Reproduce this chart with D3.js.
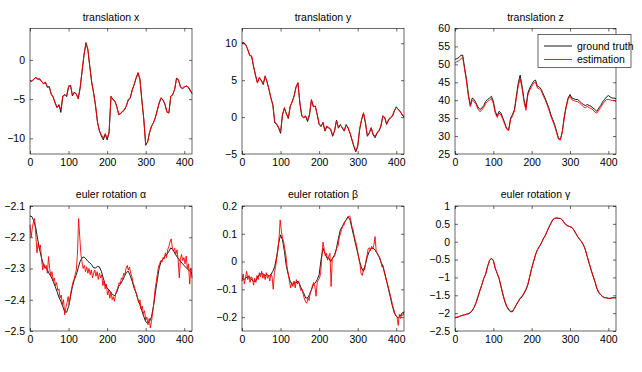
<!DOCTYPE html>
<html>
<head>
<meta charset="utf-8">
<script src="https://cdn.jsdelivr.net/npm/d3@7"></script>
<style>
  body { margin: 0; background: #fff; }
  svg { display: block; }
</style>
</head>
<body>
<div id="chart"></div>
<script>
// one sample every 5 frames, 0..420
const frames = d3.range(0, 421, 5);
// the noisy rotation estimates are read every 3 frames
const framesFine = d3.range(0, 421, 3);

const txTruth = [
  -2.6, -2.75, -2.5, -2.2, -2.5, -2.4, -2.75, -3.0, -2.9, -3.5,
  -3.4, -4.4, -4.7, -5.5, -6.1, -5.7, -6.7, -4.7, -4.4, -4.7,
  -3.5, -3.2, -4.6, -4.1, -4.4, -4.9, -3.6, -1.5, 0.6, 2.2,
  1.3, -0.8, -2.9, -4.2, -5.9, -8.0, -9.1, -9.7, -10.2, -9.5,
  -10.2, -9.3, -4.7, -5.0, -5.3, -5.9, -7.0, -6.8, -6.6, -6.4,
  -5.8, -5.1, -4.9, -3.8, -3.2, -2.3, -1.7, -2.5, -5.1, -7.6,
  -10.9, -10.4, -9.3, -8.5, -8.0, -7.4, -6.4, -5.5, -4.9, -5.1,
  -5.7, -6.6, -6.8, -4.7, -4.4, -3.8, -2.3, -2.6, -3.4, -3.7,
  -3.5, -3.3, -3.5, -3.9, -4.3
];
const txEstim = [
  -2.7, -2.7, -2.4, -2.3, -2.4, -2.5, -2.7, -3.1, -2.8, -3.4,
  -3.5, -4.3, -4.8, -5.4, -6.0, -5.9, -6.3, -4.6, -4.5, -4.6,
  -3.3, -3.3, -4.5, -4.2, -4.3, -5.0, -3.5, -1.4, 0.7, 2.1,
  1.4, -0.9, -2.8, -4.3, -5.8, -7.9, -9.0, -9.5, -10.0, -9.4,
  -10.0, -9.2, -4.6, -5.1, -5.2, -6.0, -6.9, -6.9, -6.5, -6.3,
  -5.9, -5.0, -4.8, -3.9, -3.1, -2.4, -1.6, -2.4, -5.2, -7.5,
  -10.8, -10.5, -9.2, -8.4, -8.1, -7.3, -6.5, -5.4, -4.8, -5.2,
  -5.6, -6.7, -6.7, -4.6, -4.5, -3.7, -2.4, -2.5, -3.5, -3.6,
  -3.4, -3.4, -3.4, -3.8, -4.3
];

const tyTruth = [
  10.0, 10.1, 9.8, 9.1, 8.4, 8.2, 6.8, 5.7, 4.7, 5.3,
  5.0, 4.4, 5.5, 4.8, 3.7, 2.6, 1.7, -0.8, -1.0, -1.5,
  -2.2, 0.3, 1.2, 0.5, -0.2, 1.4, 2.1, 2.8, 4.1, 4.6,
  1.9, 0.1, -0.1, 0.1, -0.6, 0.3, 2.3, 1.4, 1.5, 0.3,
  -1.0, -1.3, -0.7, -1.9, -1.3, -1.5, -1.7, -2.6, -1.9, -0.4,
  -1.5, -1.0, -1.5, -1.9, -1.0, -1.5, -2.2, -3.1, -4.0, -4.7,
  -4.0, -1.7, -0.4, 0.5, -0.8, -2.6, -2.2, -1.5, -2.4, -2.8,
  -2.2, -1.9, -1.3, 0.1, -0.1, -1.0, -0.4, -0.1, 0.1, 0.8,
  1.4, 1.0, 0.8, 0.3, 0.0
];
const tyEstim = [
  10.1, 10.0, 9.7, 9.2, 8.3, 8.3, 6.9, 5.6, 4.6, 5.4,
  4.9, 4.5, 5.6, 4.7, 3.8, 2.5, 1.6, -0.7, -0.9, -1.4,
  -2.0, 0.4, 1.3, 0.4, -0.1, 1.5, 2.0, 2.9, 4.0, 4.7,
  2.0, 0.2, 0.0, 0.2, -0.4, 0.4, 2.4, 1.5, 1.4, 0.4,
  -0.9, -1.2, -0.8, -1.8, -1.2, -1.4, -1.6, -2.5, -1.8, -0.5,
  -1.4, -1.1, -1.4, -1.8, -1.1, -1.4, -2.1, -3.0, -3.9, -4.5,
  -3.9, -1.6, -0.3, 0.6, -0.7, -2.5, -2.1, -1.4, -2.3, -2.6,
  -2.1, -1.8, -1.2, 0.2, 0.0, -0.9, -0.3, 0.0, 0.2, 0.9,
  1.3, 1.1, 0.7, 0.4, 0.0
];

const tzTruth = [
  51.4, 51.6, 51.9, 52.5, 52.6, 49.1, 45.8, 41.6, 38.6, 40.6,
  40.2, 39.2, 38.1, 37.4, 37.8, 38.5, 39.7, 40.2, 40.6, 41.1,
  39.7, 36.9, 35.6, 36.9, 36.4, 35.0, 33.6, 32.0, 31.8, 35.0,
  36.0, 37.4, 41.1, 44.8, 47.0, 43.9, 40.2, 38.0, 42.0, 43.4,
  44.4, 45.3, 45.6, 43.9, 43.7, 43.0, 41.8, 40.6, 39.2, 37.8,
  36.0, 34.6, 33.2, 31.3, 29.4, 29.1, 31.3, 35.5, 38.3, 40.6,
  41.6, 40.6, 40.4, 40.2, 40.2, 39.7, 39.2, 38.8, 38.5, 38.8,
  38.5, 38.3, 37.8, 37.4, 36.9, 37.8, 38.5, 39.5, 40.2, 40.9,
  41.3, 40.9, 40.6, 40.6, 40.4
];
const tzEstim = [
  50.3, 50.8, 51.0, 51.5, 52.0, 48.6, 45.2, 41.0, 38.2, 40.0,
  39.6, 38.8, 37.5, 36.8, 37.3, 38.0, 39.1, 39.7, 40.0, 40.5,
  39.1, 36.4, 35.2, 36.4, 35.9, 34.6, 33.2, 31.9, 31.5, 34.6,
  35.6, 37.0, 40.5, 44.0, 46.0, 43.2, 39.6, 37.2, 41.4, 42.8,
  43.8, 44.8, 45.0, 43.4, 43.2, 42.6, 41.3, 40.2, 38.8, 37.3,
  35.6, 34.1, 32.8, 30.9, 29.1, 28.9, 31.1, 35.0, 38.0, 40.2,
  41.2, 40.1, 39.9, 39.7, 39.6, 39.2, 38.7, 38.2, 37.9, 38.3,
  37.9, 37.7, 37.3, 36.7, 36.4, 37.2, 38.0, 38.9, 39.6, 40.2,
  40.2, 40.1, 39.9, 39.9, 39.7
];

const alphaTruth = [
  -2.132, -2.134, -2.148, -2.170, -2.207, -2.240, -2.266, -2.288, -2.298, -2.304,
  -2.317, -2.327, -2.341, -2.357, -2.373, -2.392, -2.405, -2.422, -2.438, -2.440,
  -2.422, -2.390, -2.357, -2.336, -2.320, -2.298, -2.277, -2.266, -2.263, -2.269,
  -2.277, -2.282, -2.288, -2.298, -2.298, -2.293, -2.295, -2.309, -2.331, -2.352,
  -2.363, -2.368, -2.378, -2.384, -2.387, -2.376, -2.357, -2.349, -2.338, -2.325,
  -2.312, -2.309, -2.323, -2.341, -2.363, -2.378, -2.400, -2.416, -2.435, -2.454,
  -2.470, -2.475, -2.470, -2.454, -2.422, -2.378, -2.336, -2.298, -2.277, -2.269,
  -2.260, -2.255, -2.245, -2.234, -2.239, -2.250, -2.260, -2.269, -2.277, -2.284,
  -2.291, -2.298, -2.304, -2.309, -2.315
];
const alphaEstim = [
  -2.160, -2.200, -2.170, -2.150, -2.140, -2.190, -2.250, -2.220, -2.235, -2.225,
  -2.270, -2.305, -2.285, -2.300, -2.290, -2.315, -2.262, -2.300, -2.325, -2.310,
  -2.340, -2.330, -2.355, -2.345, -2.370, -2.365, -2.395, -2.385, -2.415, -2.400,
  -2.448, -2.425, -2.410, -2.390, -2.415, -2.380, -2.365, -2.345, -2.335, -2.320,
  -2.305, -2.255, -2.140, -2.200, -2.255, -2.280, -2.300, -2.290, -2.310, -2.295,
  -2.315, -2.300, -2.320, -2.305, -2.330, -2.315, -2.305, -2.325, -2.310, -2.335,
  -2.315, -2.330, -2.320, -2.355, -2.340, -2.365, -2.350, -2.385, -2.370, -2.395,
  -2.375, -2.400, -2.390, -2.405, -2.380, -2.370, -2.360, -2.345, -2.350, -2.330,
  -2.335, -2.315, -2.320, -2.300, -2.290, -2.305, -2.295, -2.315, -2.325, -2.345,
  -2.355, -2.370, -2.380, -2.395, -2.410, -2.400, -2.430, -2.420, -2.445, -2.435,
  -2.465, -2.455, -2.480, -2.460, -2.490, -2.470, -2.440, -2.410, -2.370, -2.345,
  -2.320, -2.295, -2.285, -2.275, -2.280, -2.265, -2.270, -2.250, -2.265, -2.240,
  -2.230, -2.215, -2.205, -2.235, -2.245, -2.235, -2.255, -2.240, -2.270, -2.330,
  -2.270, -2.255, -2.275, -2.265, -2.285, -2.260, -2.300, -2.285, -2.350, -2.300,
  -2.330
];

const betaTruth = [
  -0.059, -0.065, -0.059, -0.053, -0.056, -0.065, -0.071, -0.071, -0.059, -0.047,
  -0.044, -0.044, -0.051, -0.047, -0.053, -0.047, -0.035, -0.017, 0.018, 0.066,
  0.096, 0.078, 0.036, -0.017, -0.047, -0.071, -0.083, -0.077, -0.077, -0.071,
  -0.083, -0.101, -0.113, -0.131, -0.131, -0.119, -0.101, -0.083, -0.077, -0.065,
  -0.047, 0.007, 0.048, 0.030, 0.013, 0.013, 0.000, 0.013, 0.024, 0.048,
  0.084, 0.114, 0.126, 0.140, 0.150, 0.162, 0.150, 0.120, 0.090, 0.060,
  0.030, 0.000, -0.023, -0.035, -0.011, 0.018, 0.036, 0.048, 0.048, 0.042,
  0.030, 0.018, 0.000, -0.017, -0.041, -0.071, -0.101, -0.131, -0.161, -0.185,
  -0.197, -0.203, -0.197, -0.185, -0.182
];
const betaEstim = [
  -0.070, -0.045, -0.080, -0.060, -0.035, -0.065, -0.050, -0.075, -0.055, -0.060,
  -0.085, -0.060, -0.075, -0.050, -0.065, -0.040, -0.055, -0.035, -0.060, -0.045,
  -0.065, -0.040, -0.060, -0.050, -0.070, -0.045, -0.055, -0.100, -0.040, -0.020,
  0.010, 0.040, 0.085, 0.150, 0.110, 0.085, 0.070, 0.045, 0.020, -0.020,
  -0.045, -0.070, -0.095, -0.075, -0.090, -0.070, -0.095, -0.065, -0.080, -0.070,
  -0.090, -0.105, -0.100, -0.120, -0.135, -0.145, -0.150, -0.130, -0.140, -0.110,
  -0.105, -0.085, -0.075, -0.090, -0.125, -0.075, -0.065, -0.060, -0.040, 0.020,
  0.070, 0.045, 0.020, 0.030, 0.005, 0.020, 0.030, -0.090, 0.010, 0.015,
  0.020, 0.035, 0.050, 0.055, 0.085, 0.100, 0.115, 0.125, 0.130, 0.145,
  0.150, 0.155, 0.160, 0.165, 0.150, 0.125, 0.115, 0.090, 0.075, 0.060,
  0.035, 0.010, -0.010, -0.045, -0.050, -0.025, -0.030, 0.000, 0.020, 0.045,
  0.050, 0.040, 0.055, 0.045, 0.060, 0.090, 0.035, 0.030, 0.020, 0.015,
  0.000, -0.020, -0.015, -0.040, -0.055, -0.070, -0.085, -0.100, -0.120, -0.135,
  -0.155, -0.170, -0.185, -0.195, -0.200, -0.230, -0.190, -0.205, -0.190, -0.195,
  -0.180
];

const gammaTruth = [
  -2.13, -2.12, -2.10, -2.08, -2.06, -2.05, -2.03, -2.02, -1.99, -1.93,
  -1.84, -1.71, -1.54, -1.37, -1.21, -1.03, -0.91, -0.70, -0.53, -0.47,
  -0.53, -0.75, -0.89, -1.03, -1.26, -1.49, -1.68, -1.82, -1.91, -1.96,
  -1.96, -1.87, -1.77, -1.68, -1.59, -1.54, -1.45, -1.35, -1.21, -0.98,
  -0.75, -0.56, -0.37, -0.23, -0.14, -0.05, 0.07, 0.16, 0.28, 0.40,
  0.51, 0.61, 0.65, 0.66, 0.65, 0.65, 0.61, 0.53, 0.47, 0.44,
  0.42, 0.40, 0.33, 0.23, 0.14, 0.07, 0.00, -0.09, -0.23, -0.42,
  -0.61, -0.79, -0.96, -1.12, -1.31, -1.43, -1.49, -1.54, -1.57, -1.57,
  -1.59, -1.59, -1.57, -1.57, -1.57
];
const gammaEstim = [
  -2.12, -2.11, -2.10, -2.07, -2.06, -2.04, -2.03, -2.01, -1.98, -1.92,
  -1.83, -1.70, -1.53, -1.36, -1.20, -1.02, -0.90, -0.69, -0.52, -0.46,
  -0.52, -0.74, -0.88, -1.02, -1.24, -1.46, -1.65, -1.80, -1.89, -1.94,
  -1.94, -1.86, -1.76, -1.67, -1.58, -1.52, -1.43, -1.33, -1.19, -0.97,
  -0.74, -0.55, -0.36, -0.22, -0.13, -0.04, 0.08, 0.17, 0.29, 0.41,
  0.52, 0.62, 0.66, 0.67, 0.66, 0.65, 0.61, 0.53, 0.47, 0.44,
  0.42, 0.40, 0.33, 0.24, 0.15, 0.07, 0.01, -0.08, -0.22, -0.41,
  -0.60, -0.78, -0.95, -1.11, -1.29, -1.41, -1.48, -1.53, -1.56, -1.57,
  -1.58, -1.58, -1.57, -1.57, -1.56
];

const xTicks = [0, 100, 200, 300, 400];
const legendLabels = ["ground truth", "estimation"];

const panels = [
  { title: "translation x", truth: txTruth, estim: txEstim, ef: frames, y: [-12, 4], ticks: [-10, -5, 0] },
  { title: "translation y", truth: tyTruth, estim: tyEstim, ef: frames, y: [-5, 12], ticks: [-5, 0, 5, 10] },
  { title: "translation z", truth: tzTruth, estim: tzEstim, ef: frames, y: [25, 60], ticks: [25, 30, 35, 40, 45, 50, 55, 60] },
  { title: "euler rotation α", truth: alphaTruth, estim: alphaEstim, ef: framesFine, y: [-2.5, -2.1], ticks: [-2.5, -2.4, -2.3, -2.2, -2.1] },
  { title: "euler rotation β", truth: betaTruth, estim: betaEstim, ef: framesFine, y: [-0.25, 0.2], ticks: [-0.2, -0.1, 0, 0.1, 0.2] },
  { title: "euler rotation γ", truth: gammaTruth, estim: gammaEstim, ef: frames, y: [-2.5, 1], ticks: [-2.5, -2, -1.5, -1, -0.5, 0, 0.5, 1] }
];

const font = "'Liberation Sans', Arial, Helvetica, sans-serif";
const cols = [[30, 192], [242, 404], [455, 616]];
const rows = [[28.5, 154], [206, 331]];

const svg = d3.select("#chart").append("svg")
  .attr("width", 642)
  .attr("height", 372)
  .style("background", "#fff");

const fmt = d3.format("");

function styleAxis(a) {
  a.select(".domain").remove();
  a.attr("font-family", font).attr("font-size", 10.5);
  a.selectAll("line").attr("stroke-width", 0.6);
  a.selectAll("text").attr("fill", "#000");
}

panels.forEach((p, i) => {
  const [x0, x1] = cols[i % 3];
  const [y0, y1] = rows[Math.floor(i / 3)];
  const x = d3.scaleLinear().domain([0, 420]).range([x0, x1]);
  const y = d3.scaleLinear().domain(p.y).range([y1, y0]);
  const g = svg.append("g");

  const lineAt = f => d3.line().x((d, j) => x(f[j])).y(d => y(d));

  g.append("path")
    .attr("d", lineAt(frames)(p.truth))
    .attr("fill", "none")
    .attr("stroke", "#000")
    .attr("stroke-width", 0.9);

  g.append("path")
    .attr("d", lineAt(p.ef)(p.estim))
    .attr("fill", "none")
    .attr("stroke", "#ff0000")
    .attr("stroke-width", 0.9);

  g.append("rect")
    .attr("x", x0).attr("y", y0)
    .attr("width", x1 - x0).attr("height", y1 - y0)
    .attr("fill", "none")
    .attr("stroke", "#000")
    .attr("stroke-width", 0.6);

  // ticks point inward on all four sides, labels only left and bottom
  g.append("g").attr("transform", `translate(0,${y1})`)
    .call(d3.axisBottom(x).tickValues(xTicks).tickSizeInner(-3).tickSizeOuter(0).tickPadding(5))
    .call(styleAxis);
  g.append("g").attr("transform", `translate(0,${y0})`)
    .call(d3.axisTop(x).tickValues(xTicks).tickSizeInner(-3).tickSizeOuter(0).tickFormat(""))
    .call(styleAxis);
  g.append("g").attr("transform", `translate(${x0},0)`)
    .call(d3.axisLeft(y).tickValues(p.ticks).tickSizeInner(-3).tickSizeOuter(0).tickPadding(5).tickFormat(fmt))
    .call(styleAxis);
  g.append("g").attr("transform", `translate(${x1},0)`)
    .call(d3.axisRight(y).tickValues(p.ticks).tickSizeInner(-3).tickSizeOuter(0).tickFormat(""))
    .call(styleAxis);

  g.append("text")
    .attr("x", (x0 + x1) / 2)
    .attr("y", y0 - 8)
    .attr("text-anchor", "middle")
    .attr("font-family", font)
    .attr("font-size", 10.5)
    .text(p.title);
});

// legend on the translation z panel
const leg = svg.append("g");
leg.append("rect")
  .attr("x", 538).attr("y", 34.5)
  .attr("width", 93).attr("height", 33)
  .attr("fill", "#fff")
  .attr("stroke", "#000")
  .attr("stroke-width", 0.6);
["#000", "#ff0000"].forEach((c, k) => {
  const ly = 46 + k * 13.5;
  leg.append("line")
    .attr("x1", 544).attr("x2", 572)
    .attr("y1", ly).attr("y2", ly)
    .attr("stroke", c).attr("stroke-width", 0.9);
  leg.append("text")
    .attr("x", 577).attr("y", ly + 3.8)
    .attr("font-family", font)
    .attr("font-size", 10.5)
    .text(legendLabels[k]);
});
</script>
</body>
</html>
